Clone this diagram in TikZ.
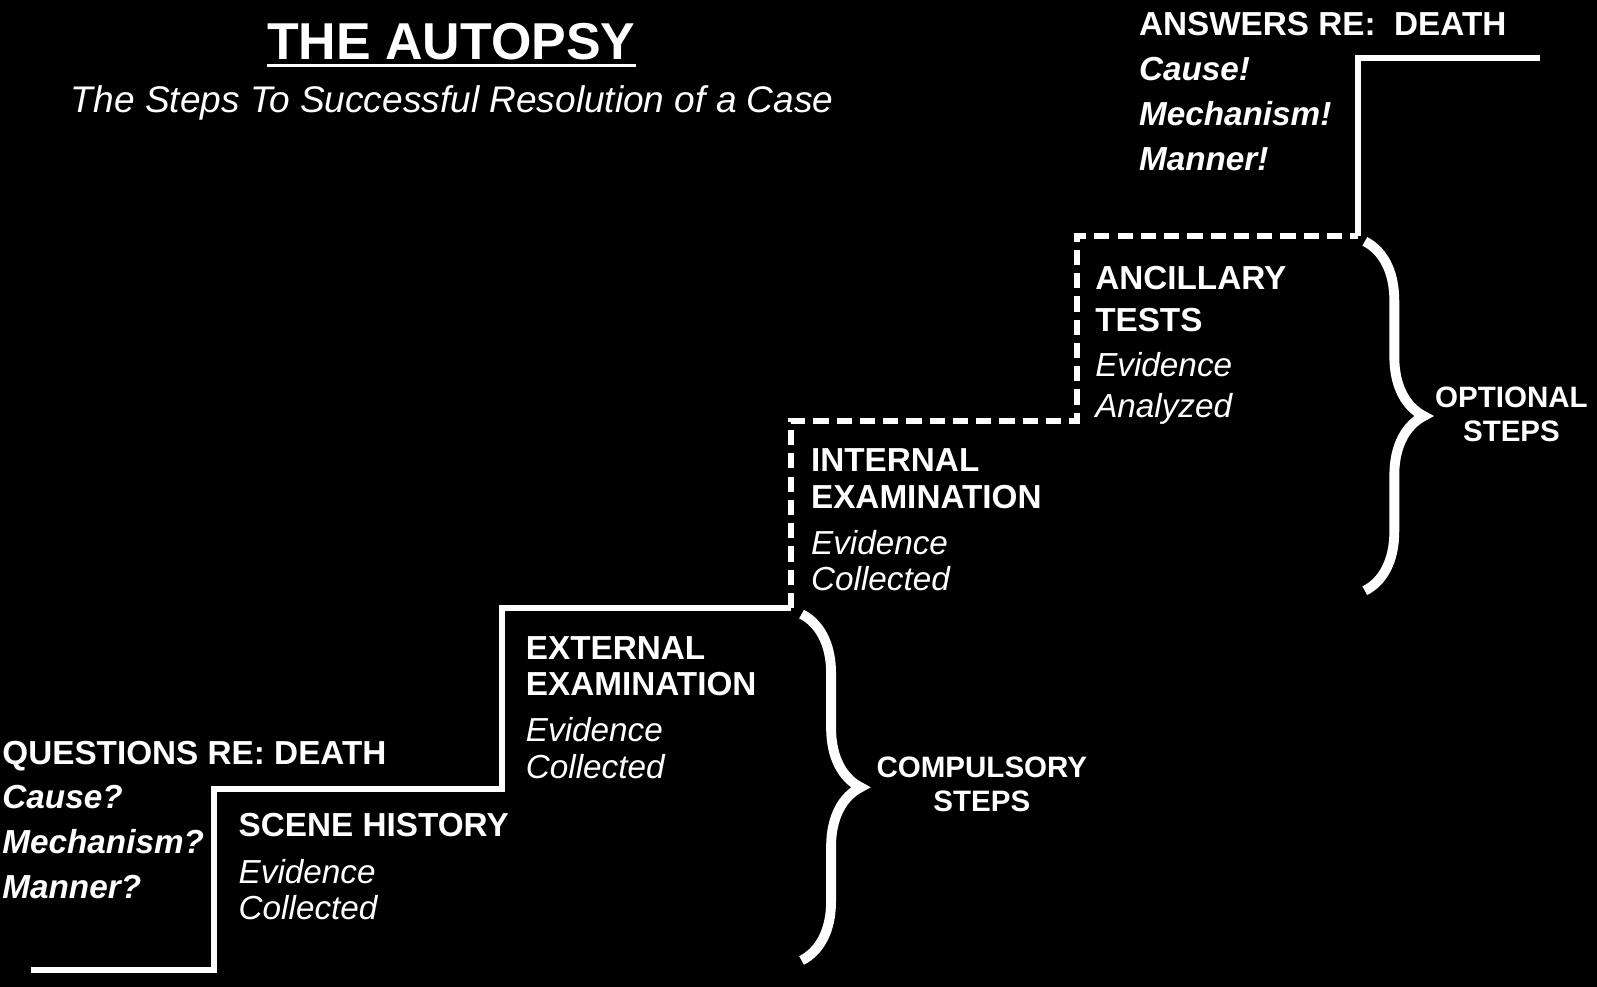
\documentclass[tikz,border=0pt]{standalone}
\usepackage{fontspec}
\setmainfont{Liberation Sans}
\usepackage{tikz}
\usetikzlibrary{decorations.pathreplacing}
\tikzstyle{stair} = [line width=3.4pt, white, line join=miter]
\tikzstyle{optstair} = [stair, dash pattern=on 8.5pt off 4.5pt]
\tikzstyle{stepname} = [text=white, align=left, anchor=base west, inner sep=0pt, font=\fontsize{18.6}{20.5}\selectfont]
\tikzstyle{deathlist} = [stepname, font=\fontsize{18.6}{25}\selectfont]
\tikzstyle{bracelabel} = [text=white, align=center, inner sep=0pt, font=\fontsize{16.5}{18.8}\selectfont\bfseries]
\tikzstyle{stepbrace} = [decorate, decoration={brace, amplitude=1.16cm}, line width=5.5pt, white]

\begin{document}
\begin{tikzpicture}[x=0.02cm, y=-0.02cm]
% Background
\fill[black] (0,0) rectangle (1568,969);
\useasboundingbox (0,0) rectangle (1568,969);

% Title
\node (title) [text=white, inner sep=0pt, anchor=base, font=\fontsize{29}{32}\selectfont\bfseries] at (443,58) {THE AUTOPSY};
\draw[white, line width=1.7pt] ([yshift=-3.6pt]title.base west) -- ([yshift=-3.6pt]title.base east);
\node (subtitle) [text=white, inner sep=0pt, anchor=base, font=\fontsize{20.7}{24}\selectfont\itshape] at (444,110) {The Steps To Successful Resolution of a Case};

% Staircase
\coordinate (c0) at (30,952);
\coordinate (c1) at (210,952);
\coordinate (c2) at (210,775);
\coordinate (c3) at (493,775);
\coordinate (c4) at (493,597);
\coordinate (c5) at (777,597);
\coordinate (c6) at (777,413);
\coordinate (c7) at (1057,413);
\coordinate (c8) at (1057,232);
\coordinate (c9) at (1333,232);
\coordinate (c10) at (1333,57);
\coordinate (c11) at (1512,57);

\draw[stair] (c0) -- (c1) -- (c2) -- (c3) -- (c4) -- (c5);
\draw[optstair] (c5) -- (c6) -- (c7) -- (c8) -- (c9);
\draw[stair] (c9) -- (c10) -- (c11);

% Questions and answers (placed by last line)
\node (questions) [deathlist] at (2,882) {{\bfseries QUESTIONS RE: DEATH}\\
{\bfseries\itshape Cause?}\\
{\bfseries\itshape Mechanism?}\\
{\bfseries\itshape Manner?}};
\node (answers) [deathlist] at (1118,167) {{\bfseries ANSWERS RE:\ \ DEATH}\\
{\bfseries\itshape Cause!}\\
{\bfseries\itshape Mechanism!}\\
{\bfseries\itshape Manner!}};

% Steps
\node (scene) [stepname] at (234,903) {{\bfseries SCENE HISTORY}\\[5.5pt]
{\itshape Evidence}\\
{\itshape Collected}};
\node (external) [stepname] at (516,764) {{\bfseries EXTERNAL}\\
{\bfseries EXAMINATION}\\[5pt]
{\itshape Evidence}\\
{\itshape Collected}};
\node (internal) [stepname] at (796,580) {{\bfseries INTERNAL}\\
{\bfseries EXAMINATION}\\[5pt]
{\itshape Evidence}\\
{\itshape Collected}};
\node (ancillary) [stepname] at (1075,410) {{\bfseries ANCILLARY}\\[2.8pt]
{\bfseries TESTS}\\[5pt]
{\itshape Evidence}\\[2.3pt]
{\itshape Analyzed}};

% Braces
\coordinate (cb1) at (787,603);
\coordinate (cb2) at (787,943);
\coordinate (ob1) at (1340,237);
\coordinate (ob2) at (1340,580);
\draw[stepbrace] (cb1) -- (cb2);
\draw[stepbrace] (ob1) -- (ob2);
\node (compulsory) [bracelabel] at (964,770) {COMPULSORY\\STEPS};
\node (optional) [bracelabel] at (1484,407) {OPTIONAL\\STEPS};
\end{tikzpicture}
\end{document}
